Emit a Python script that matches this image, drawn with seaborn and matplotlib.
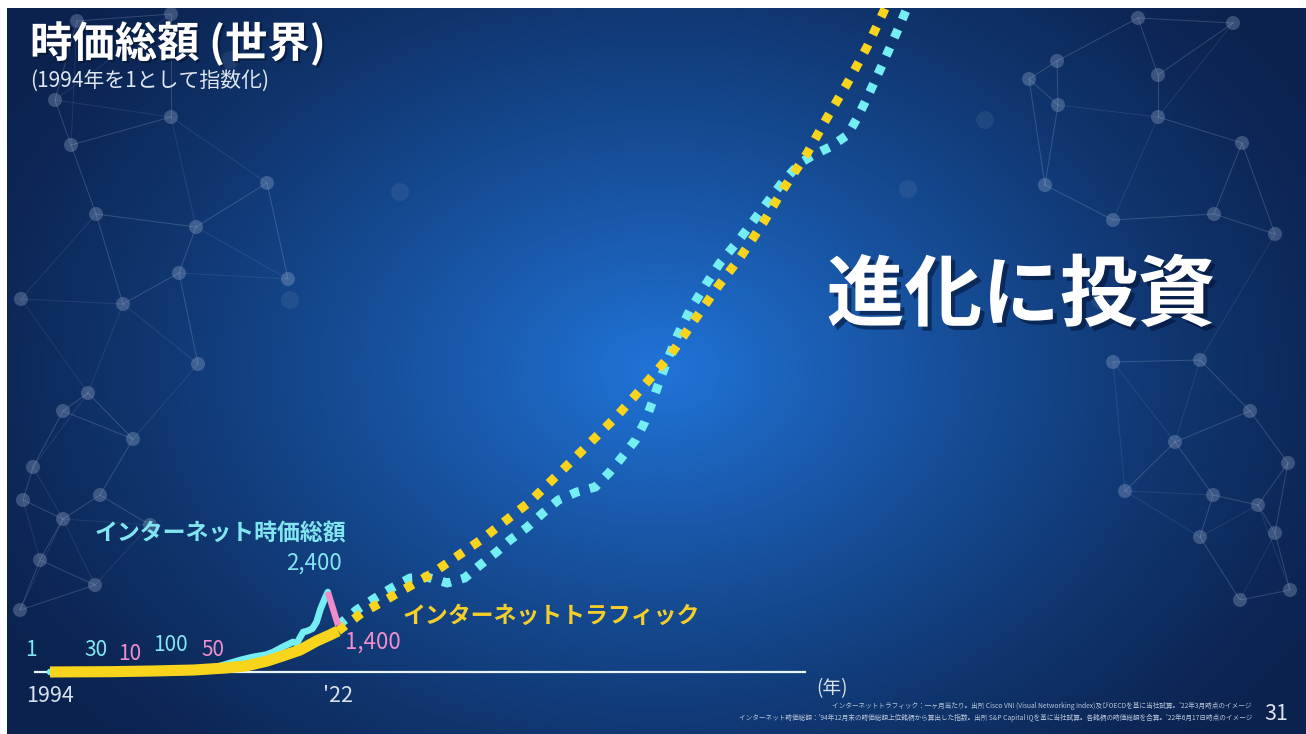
import numpy as np
import matplotlib
matplotlib.use("Agg")
import matplotlib.pyplot as plt
import matplotlib.patheffects as pe
import seaborn as sns
import pandas as pd

# ---------------- data (index, 1994 = 1) ----------------
traffic_years = [1994, 2000, 2004, 2008, 2011, 2013, 2015, 2016.6, 2018.3, 2019.9, 2021.2, 2022.0]
traffic_index = [1, 10, 30, 60, 120, 180, 320, 480, 660, 930, 1110, 1230]

cap_years = [1994, 1996, 1998, 2000, 2002, 2004, 2007, 2009, 2010.5, 2012.5, 2013.7,
             2015.0, 2015.7, 2016.6, 2017.6, 2018.0, 2018.6, 2019.0, 2019.5, 2019.9,
             2020.3, 2020.7, 2021.0]
cap_index = [1, 4, 12, 30, 10, 30, 100, 50, 180, 360, 450,
             520, 600, 750, 900, 870, 1200, 1230, 1300, 1500,
             1900, 2200, 2400]

cap_drop_years = [2021.0, 2021.4, 2021.7, 2022.0]
cap_drop_index = [2400, 2000, 1700, 1400]

traffic_proj_years = [2022.0, 2024.3, 2026.1, 2031.2, 2036.0, 2040.6, 2044.8, 2049.1,
                      2051.6, 2054.3, 2056.5, 2058.8, 2061.1, 2063.3, 2065.2, 2067.6,
                      2069.5, 2071.5, 2073.4, 2075.0, 2075.8]
traffic_proj_index = [1230, 1770, 2070, 2970, 3990, 5100, 6360, 7680,
                      8550, 9510, 10500, 11520, 12450, 13470, 14460, 15570,
                      16620, 17670, 18750, 19800, 20400]

cap_proj_years = [2022.0, 2023.8, 2025.6, 2027.2, 2029.0, 2030.6, 2032.6, 2034.3, 2035.8,
                  2037.4, 2038.7, 2040.4, 2041.9, 2043.4, 2045.2, 2047.0, 2048.4, 2049.6,
                  2050.9, 2051.8, 2052.5, 2053.1, 2054.0, 2055.0, 2056.2, 2057.7, 2059.1,
                  2061.1, 2063.0, 2065.2, 2066.9, 2068.2, 2069.8, 2071.5, 2072.5, 2073.4,
                  2075.0, 2076.6, 2077.6]
cap_proj_index = [1400, 1860, 2220, 2520, 2820, 2850, 2670, 2820, 3210,
                  3600, 3960, 4350, 4770, 5160, 5400, 5550, 6000, 6450,
                  6960, 7500, 8070, 8610, 9360, 10110, 10860, 11610, 12270,
                  13020, 13800, 14700, 15270, 15510, 15750, 16110, 16650, 17220,
                  18300, 19410, 20160]

label_years = [1994, 2000, 2002, 2007, 2009, 2021.0, 2022.0]
label_values = [1, 30, 10, 100, 50, 2400, 1400]
label_texts = ["1", "30", "10", "100", "50", "2,400", "1,400"]
label_is_peak = [True, True, False, True, False, True, False]

tick_years = [1994, 2022]
tick_labels = ["1994", "'22"]

# ---------------- layout ----------------
W, H = 1306, 734
LEFT, TOP = 7, 8
PX_YEAR = 10.29           # pixels per year
X0_PX, BASE_PX = 50, 672  # pixel position of 1994 and of index 0
UNITS_PX = 30.0           # index units per pixel

CYAN = "#74eef3"
YELLOW = "#f8d51c"
PINK = "#f08cc6"
CYAN_TXT = "#82e6f0"
PINK_TXT = "#ee8fcb"
YELLOW_TXT = "#f4cf2a"

sns.set_theme(style="white")
plt.rcParams["font.family"] = ["Noto Sans CJK JP", "DejaVu Sans"]

fig = plt.figure(figsize=(W / 100, H / 100), dpi=100, facecolor="white")
rect = [LEFT / W, 0, (W - LEFT) / W, (H - TOP) / H]

# ---------- background: radial blue gradient + network pattern ----------
bg = fig.add_axes(rect)
bg.set_xlim(LEFT, W)
bg.set_ylim(H, TOP)
bg.axis("off")

gx = np.linspace(LEFT, W, 400)
gy = np.linspace(TOP, H, 240)
XX, YY = np.meshgrid(gx, gy)
r = np.sqrt(((XX - 660) / 760) ** 2 + ((YY - 370) / 560) ** 2)
t = np.clip(1 - r, 0, 1) ** 1.25
edge = np.array([11, 34, 78]) / 255
center = np.array([32, 116, 216]) / 255
img = edge[None, None, :] + (center - edge)[None, None, :] * t[..., None]
bg.imshow(img, extent=(LEFT, W, H, TOP), aspect="auto", interpolation="bilinear", zorder=0)

left_nodes = [(77, 21), (171, 14), (55, 100), (71, 145), (171, 117), (267, 183), (96, 214),
              (196, 227), (179, 273), (288, 279), (123, 304), (21, 299), (198, 364), (88, 393),
              (63, 411), (133, 439), (33, 467), (100, 495), (23, 500), (63, 519), (150, 525),
              (40, 560), (20, 610), (95, 585)]
right_nodes = [(1138, 18), (1233, 23), (1057, 61), (1158, 75), (1029, 79), (1058, 105),
               (1158, 117), (1242, 143), (1113, 220), (1214, 214), (1275, 234), (1045, 185),
               (1113, 362), (1200, 360), (1250, 411), (1175, 442), (1288, 463), (1125, 491),
               (1213, 495), (1258, 505), (1200, 537), (1275, 533), (1290, 590), (1240, 600)]
faint_nodes = [(400, 192), (908, 189), (290, 300), (1100, 300), (985, 120), (230, 60)]

for nodes in (left_nodes, right_nodes):
    pts = np.array(nodes, dtype=float)
    for i, p in enumerate(pts):
        d = np.hypot(*(pts - p).T)
        for j in np.argsort(d)[1:4]:
            bg.plot([p[0], pts[j][0]], [p[1], pts[j][1]], color="#c8d6ee",
                    alpha=0.11, lw=0.7, zorder=1)
    bg.scatter(pts[:, 0], pts[:, 1], s=(1.44 * 7) ** 2, color="#a9bad6",
               alpha=0.3, edgecolors="none", zorder=2)
fp = np.array(faint_nodes, dtype=float)
bg.scatter(fp[:, 0], fp[:, 1], s=(1.44 * 9) ** 2, color="#a9bad6",
           alpha=0.1, edgecolors="none", zorder=2)

# ---------- chart ----------
ax = fig.add_axes(rect)
ax.patch.set_alpha(0)
ax.set_xlim(1994 - (X0_PX - LEFT) / PX_YEAR, 1994 + (W - X0_PX) / PX_YEAR)
ax.set_ylim(-(H - BASE_PX) * UNITS_PX, (BASE_PX - TOP) * UNITS_PX)

traffic = pd.DataFrame({"year": traffic_years, "index": traffic_index})
cap = pd.DataFrame({"year": cap_years, "index": cap_index})
cap_drop = pd.DataFrame({"year": cap_drop_years, "index": cap_drop_index})
traffic_proj = pd.DataFrame({"year": traffic_proj_years, "index": traffic_proj_index})
cap_proj = pd.DataFrame({"year": cap_proj_years, "index": cap_proj_index})

dot = (0, (1, 1.2))
sns.lineplot(data=cap_proj, x="year", y="index", ax=ax, color=CYAN, lw=6.5,
             linestyle=dot, dash_capstyle="butt", zorder=3)
sns.lineplot(data=traffic_proj, x="year", y="index", ax=ax, color=YELLOW, lw=6.5,
             linestyle=dot, dash_capstyle="butt", zorder=4)
sns.lineplot(data=cap, x="year", y="index", ax=ax, color=CYAN, lw=4.8,
             solid_capstyle="round", solid_joinstyle="round", zorder=5)
sns.lineplot(data=cap_drop, x="year", y="index", ax=ax, color=PINK, lw=4.6,
             solid_capstyle="butt", zorder=5)
sns.lineplot(data=traffic, x="year", y="index", ax=ax, color=YELLOW, lw=8.0,
             solid_capstyle="butt", solid_joinstyle="round", zorder=6)

# axis: white baseline with two year labels
for s in ("top", "right", "left"):
    ax.spines[s].set_visible(False)
ax.spines["bottom"].set_position(("data", 0))
ax.spines["bottom"].set_bounds(1994 - 15 / PX_YEAR, 1994 + 755 / PX_YEAR)
ax.spines["bottom"].set_color("#eaf4ff")
ax.spines["bottom"].set_linewidth(1.6)
ax.spines["bottom"].set_zorder(2)
ax.set_xticks(tick_years)
ax.set_xticklabels(tick_labels)
ax.set_yticks([])
ax.tick_params(axis="x", length=0, pad=9, labelsize=15.5, labelcolor="#d9e2ee")
ax.set_xlabel("")
ax.set_ylabel("")
ax.grid(False)

# value labels on peaks and troughs
offsets = [(-19, 22), (-16, 21), (-3, 18), (-13, 24), (9, 20), (-14, 29), (35, -17)]
sizes = [15, 15, 15, 15, 15, 16, 16]
for yr, v, txt, peak, off, fs in zip(label_years, label_values, label_texts,
                                     label_is_peak, offsets, sizes):
    ax.annotate(txt, xy=(yr, v), xytext=off, textcoords="offset pixels",
                ha="center", va="center", fontsize=fs,
                color=CYAN_TXT if peak else PINK_TXT, zorder=7)

# ---------- text ----------
shadow = [pe.withSimplePatchShadow(offset=(1.5, -1.5), shadow_rgbFace="#05122b", alpha=0.6)]
bg.text(30, 44, "時価総額 (世界)", fontsize=30.5, fontweight="bold", color="white",
        ha="left", va="center", zorder=8, path_effects=shadow)
bg.text(30, 81, "(1994年を1として指数化)", fontsize=15, color="#dfe6f0",
        ha="left", va="center", zorder=8)
bg.text(1021, 297, "進化に投資", fontsize=56, fontweight="bold", color="white",
        ha="center", va="center", zorder=8,
        path_effects=[pe.withSimplePatchShadow(offset=(3, -3), shadow_rgbFace="#031030", alpha=0.55)])
bg.text(220, 533, "インターネット時価総額", fontsize=16.5, fontweight="bold",
        color=CYAN_TXT, ha="center", va="center", zorder=8)
bg.text(551, 616, "インターネットトラフィック", fontsize=16.5, fontweight="bold",
        color=YELLOW_TXT, ha="center", va="center", zorder=8)
bg.text(832, 689, "(年)", fontsize=13.5, color="#d9e2ee", ha="center", va="center", zorder=8)
bg.text(1276, 714, "31", fontsize=15.5, color="#d9e2ee", ha="center", va="center", zorder=8)
bg.text(1252, 706, "インターネットトラフィック：一ヶ月当たり。出所 Cisco VNI (Visual Networking Index)及びOECDを基に当社試算。'22年3月時点のイメージ",
        fontsize=4.8, color="#b9c6d8", ha="right", va="center", zorder=8)
bg.text(1252, 718, "インターネット時価総額：'94年12月末の時価総額上位銘柄から算出した指数。出所 S&P Capital IQを基に当社試算。各銘柄の時価総額を合算。'22年6月17日時点のイメージ",
        fontsize=4.8, color="#b9c6d8", ha="right", va="center", zorder=8)

fig.savefig("out.png", dpi=100, facecolor="white")
